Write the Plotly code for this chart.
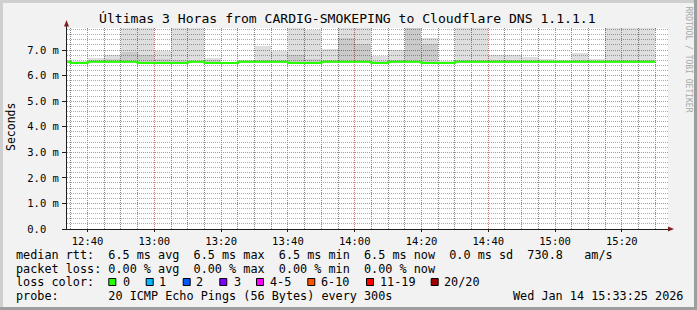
import plotly.graph_objects as go
import pandas as pd

# ---------------- data ----------------
DAY = "2026-01-14 "
bin_end = ["12:35", "12:40", "12:45", "12:50", "12:55", "13:00", "13:05", "13:10", "13:15",
           "13:20", "13:25", "13:30", "13:35", "13:40", "13:45", "13:50", "13:55", "14:00",
           "14:05", "14:10", "14:15", "14:20", "14:25", "14:30", "14:35", "14:40", "14:45",
           "14:50", "14:55", "15:00", "15:05", "15:10", "15:15", "15:20", "15:25", "15:30"]

median_ms = [6.54, 6.49, 6.54, 6.54, 6.54, 6.49, 6.49, 6.49, 6.54, 6.49, 6.49, 6.54,
             6.54, 6.54, 6.49, 6.49, 6.54, 6.54, 6.54, 6.49, 6.54, 6.54, 6.49, 6.49,
             6.54, 6.54, 6.54, 6.54, 6.54, 6.54, 6.54, 6.54, 6.54, 6.54, 6.54, 6.54]

max_ms = [6.58, 6.58, 6.70, 6.79, 8.50, 8.50, 6.95, 8.50, 8.50, 6.69, 6.52, 6.59,
          7.15, 6.95, 8.50, 7.78, 7.05, 8.50, 8.50, 6.77, 7.00, 8.50, 7.46, 6.58,
          8.50, 8.50, 6.80, 6.79, 6.74, 6.63, 6.60, 6.88, 6.64, 8.50, 8.50, 8.50]

upper_q_ms = [6.56, 6.55, 6.60, 6.63, 6.92, 6.82, 6.63, 6.60, 6.58, 6.60, 6.50, 6.56,
              6.62, 6.60, 6.82, 6.64, 6.60, 7.48, 7.22, 6.58, 6.62, 7.90, 7.25, 6.52,
              6.60, 6.62, 6.62, 6.62, 6.60, 6.57, 6.56, 6.60, 6.57, 6.60, 6.62, 6.60]

min_ms = [6.50, 6.46, 6.50, 6.50, 6.50, 6.46, 6.46, 6.46, 6.50, 6.46, 6.46, 6.50,
          6.50, 6.50, 6.46, 6.46, 6.50, 6.50, 6.50, 6.46, 6.50, 6.50, 6.46, 6.46,
          6.50, 6.50, 6.50, 6.50, 6.50, 6.50, 6.50, 6.50, 6.50, 6.50, 6.50, 6.50]

x_tick_labels = ["12:40", "13:00", "13:20", "13:40", "14:00", "14:20", "14:40", "15:00", "15:20"]
y_tick_values = [0, 1, 2, 3, 4, 5, 6, 7]
y_tick_labels = ["0.0\u00a0\u00a0", "1.0 m", "2.0 m", "3.0 m", "4.0 m", "5.0 m", "6.0 m", "7.0 m"]

loss_labels = ["0", "1", "2", "3", "4-5", "6-10", "11-19", "20/20"]
loss_colors = ["#26ff00", "#00b8ff", "#0059ff", "#7e00ff", "#ff00ff", "#ff5500", "#ff0000", "#a10000"]

title_text = "Últimas 3 Horas from CARDIG-SMOKEPING to Cloudflare DNS 1.1.1.1"
legend_line1 = "median rtt:  6.5 ms avg  6.5 ms max  6.5 ms min  6.5 ms now  0.0 ms sd  730.8   am/s"
legend_line2 = "packet loss: 0.00 % avg  0.00 % max  0.00 % min  0.00 % now"
legend_line3 = "loss color:"
legend_line4 = "probe:       20 ICMP Echo Pings (56 Bytes) every 300s"
date_text = "Wed Jan 14 15:33:25 2026"

# ---------------- geometry helpers ----------------
W, H = 697, 310
L, T, R, B = 67, 28, 29, 81
PW = W - L - R
PH = H - T - B


def px(x):
    return (x - L) / PW


def py(y):
    return (H - B - y) / PH


MONO = "DejaVu Sans Mono"

ends = pd.to_datetime([DAY + t for t in bin_end])
starts = ends - pd.Timedelta(minutes=5)
centers = starts + pd.Timedelta(seconds=150)
width_ms = 300000

fig = go.Figure()

# outer smoke (min..max)
fig.add_trace(go.Bar(
    x=centers, base=min_ms, y=[a - b for a, b in zip(max_ms, min_ms)],
    width=width_ms, marker=dict(color="rgba(0,0,0,0.13)", line=dict(width=0)),
    hoverinfo="skip"))
# inner smoke (min..upper quantile)
fig.add_trace(go.Bar(
    x=centers, base=min_ms, y=[a - b for a, b in zip(upper_q_ms, min_ms)],
    width=width_ms, marker=dict(color="rgba(0,0,0,0.09)", line=dict(width=0)),
    hoverinfo="skip"))

# median line (step)
step_x = list(starts) + [ends[-1]]
step_y = list(median_ms) + [median_ms[-1]]
fig.add_trace(go.Scatter(x=step_x, y=step_y, mode="lines", line=dict(color=loss_colors[0], width=2, shape="hv"),
                         hoverinfo="skip"))

grid_minor_x = "rgba(120,120,120,0.9)"
grid_minor_y = "rgba(150,150,150,0.8)"
grid_major = "rgba(235,110,110,0.65)"

fig.update_layout(
    width=W, height=H,
    margin=dict(l=L, r=R, t=T, b=B, autoexpand=False),
    paper_bgcolor="#f2f2f2", plot_bgcolor="#ffffff",
    showlegend=False, barmode="overlay", bargap=0,
    font=dict(family=MONO, color="#000000"),
    xaxis=dict(
        type="date",
        range=[DAY + "12:33:50", DAY + "15:33:50"],
        tickmode="array",
        tickvals=[DAY + t for t in x_tick_labels],
        ticktext=x_tick_labels,
        tickfont=dict(family=MONO, size=10.5, color="#000"),
        showgrid=True, gridcolor=grid_major, griddash="1px,1px", gridwidth=1,
        minor=dict(dtick=300000, tick0=DAY + "12:40", showgrid=True, gridcolor=grid_minor_x,
                   griddash="1px,1px", gridwidth=1, ticks=""),
        showline=True, linecolor="#1f1f1f", linewidth=1,
        ticks="outside", ticklen=2, tickcolor="#1f1f1f",
        zeroline=False, fixedrange=True,
    ),
    yaxis=dict(
        range=[0, PH / 25.57],
        tickmode="array", tickvals=y_tick_values, ticktext=y_tick_labels,
        tickfont=dict(family=MONO, size=10.5, color="#000"),
        showgrid=True, gridcolor=grid_major, griddash="1px,1px", gridwidth=1,
        minor=dict(dtick=0.2, tick0=0, showgrid=True, gridcolor=grid_minor_y,
                   griddash="1px,1px", gridwidth=1, ticks=""),
        showline=True, linecolor="#1f1f1f", linewidth=1,
        ticks="outside", ticklen=4, tickcolor="#1f1f1f",
        ticklabelstandoff=1,
        zeroline=False, fixedrange=True,
    ),
)

shapes = []
# frame shading
shapes.append(dict(type="rect", xref="paper", yref="paper", x0=px(0), x1=px(W), y0=py(0), y1=py(3),
                   fillcolor="#cfcfcf", line=dict(width=0), layer="above"))
shapes.append(dict(type="rect", xref="paper", yref="paper", x0=px(0), x1=px(3), y0=py(0), y1=py(H),
                   fillcolor="#cfcfcf", line=dict(width=0), layer="above"))
shapes.append(dict(type="rect", xref="paper", yref="paper", x0=px(0), x1=px(W), y0=py(H - 3), y1=py(H),
                   fillcolor="#9e9e9e", line=dict(width=0), layer="above"))
shapes.append(dict(type="rect", xref="paper", yref="paper", x0=px(W - 3), x1=px(W), y0=py(0), y1=py(H),
                   fillcolor="#9e9e9e", line=dict(width=0), layer="above"))
# axis extensions and arrows
shapes.append(dict(type="line", xref="paper", yref="paper", x0=px(66.5), x1=px(66.5), y0=py(28), y1=py(22),
                   line=dict(color="#1f1f1f", width=1), layer="above"))
shapes.append(dict(type="path", xref="paper", yref="paper",
                   path="M {} {} L {} {} L {} {} Z".format(px(64), py(26.5), px(69), py(26.5), px(66.5), py(20)),
                   fillcolor="#801f1f", line=dict(width=0), layer="above"))
shapes.append(dict(type="path", xref="paper", yref="paper",
                   path="M {} {} L {} {} L {} {} Z".format(px(668), py(226.5), px(668), py(231.5), px(674), py(229)),
                   fillcolor="#801f1f", line=dict(width=0), layer="above"))
# legend colour boxes
box_x = [108.3, 145.7, 182.7, 219.3, 256, 307.3, 366, 430.7]
for bx, c in zip(box_x, loss_colors):
    shapes.append(dict(type="rect", xref="paper", yref="paper", x0=px(bx + 0.5), x1=px(bx + 7.5),
                       y0=py(285.5), y1=py(278.5), fillcolor=c, line=dict(color="#000", width=1), layer="above"))
fig.update_layout(shapes=shapes)


def nb(s):
    return s.replace(" ", "\u00a0")


annotations = []


def add_text(text, x, y, size=11.8, anchor="left", angle=0, color="#000"):
    annotations.append(dict(text=nb(text), x=px(x), y=py(y), xref="paper", yref="paper",
                            xanchor=anchor, yanchor="middle", showarrow=False, textangle=angle,
                            borderpad=0, borderwidth=0,
                            font=dict(family=MONO, size=size, color=color)))


add_text(title_text, 347.5, 18.5, size=13.1, anchor="center")
add_text("Seconds", 11, 127, size=11.5, anchor="center", angle=-90)
add_text("RRDTOOL / TOBI OETIKER", 687.5, 59, size=8, anchor="center", angle=90, color="#a8a8a8")
add_text(legend_line1, 15.5, 255)
add_text(legend_line2, 15.5, 268.5)
add_text(legend_line3, 15.5, 282)
add_text(legend_line4, 15.5, 296)
add_text(date_text, 512.8, 296)
label_x = [123.3, 160, 196.7, 234.3, 271, 321.7, 380.7, 445]
for lx, lab in zip(label_x, loss_labels):
    add_text(lab, lx - 0.7, 282)
fig.update_layout(annotations=annotations)

fig.write_html("out.html")
